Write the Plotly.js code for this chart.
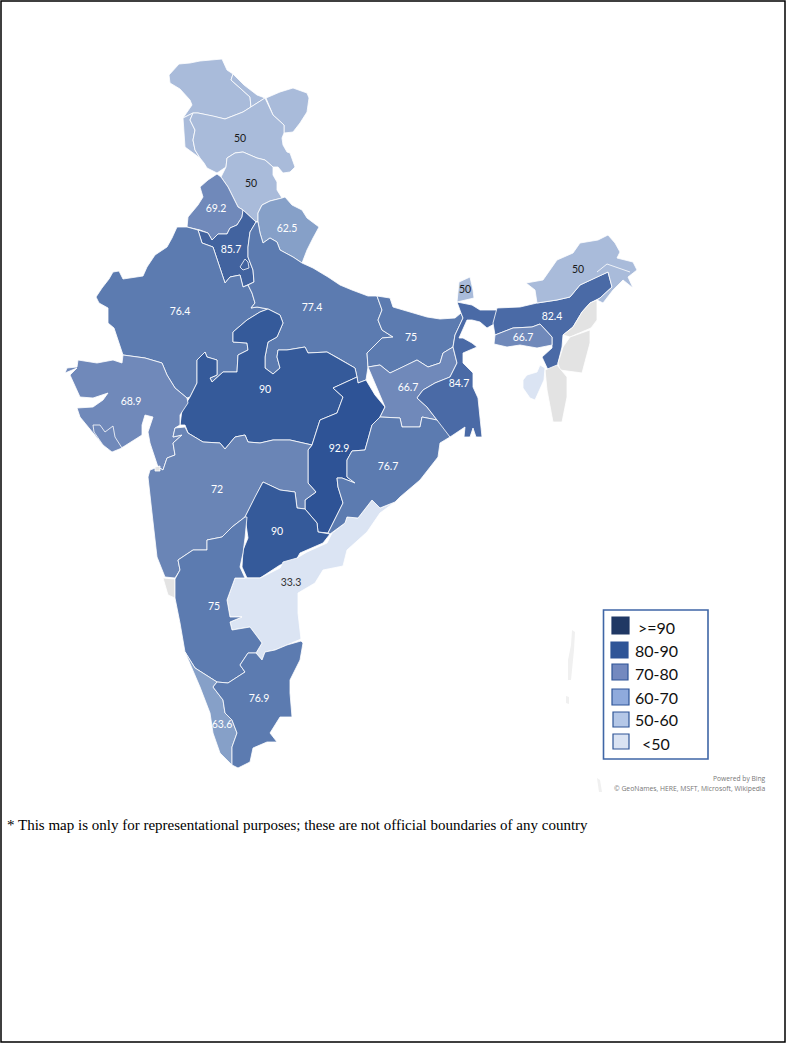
<!DOCTYPE html>
<html><head><meta charset="utf-8">
<script src="https://cdn.plot.ly/plotly-3.0.1.min.js"></script>
<style>html,body{margin:0;padding:0;background:#fff}#c{width:786px;height:1043px}</style></head>
<body><div id="c"></div>
<script>
// State outlines, in map units (flat x,y pairs)
const gilgit=[169,75,179,64,190,63,200,61,222,59,227,70,233,74,231,80,240,88,250,97,251,107,243,112,225,119,213,116,198,113,193,113,183,118,192,105,190,100,180,89,170,83];
const strip=[233,74,244,85,257,95,265,98,251,107,250,97,240,88,231,80];
const ladakh=[266,98,280,92,293,88,307,93,309,98,307,112,300,123,293,132,284,133,284,125,273,115];
const azad=[183,118,193,113,190,120,195,130,193,140,195,150,200,158,185,147];
const jammu=[193,113,198,113,213,116,225,119,243,112,251,107,265,98,273,115,284,125,284,133,282,138,283,145,287,152,290,153,295,167,290,172,283,173,278,167,273,167,265,160,257,158,243,152,235,153,227,158,226,167,217,173,207,168,204,163,200,158,195,150,193,140,195,130,190,120];
const himachal=[221,177,226,167,227,158,235,153,243,152,257,158,265,160,273,167,273,175,277,182,277,190,282,198,270,201,262,205,258,213,258,222,255,221,248,215,243,210,238,207,233,197,228,187];
const punjab=[217,174,221,177,228,187,233,197,238,207,243,210,242,217,237,225,230,228,227,234,218,234,212,240,208,233,200,230,187,227,188,217,198,205,203,197,200,187,208,180];
const uttarakhand=[262,205,270,201,282,198,285,197,292,205,302,210,307,218,319,227,313,238,307,250,302,263,293,257,280,250,277,242,270,238,263,243,260,233,258,222,258,213];
const haryana=[243,210,248,215,256,222,250,232,248,247,248,257,253,270,254,282,243,287,240,275,230,277,225,283,223,277,217,260,213,247,202,243,198,230,208,233,212,240,218,234,227,234,230,228,237,225,242,217];
const delhi=[240,267,245,259,248,262,249,268,243,270];
const rajasthan=[177,227,187,227,198,230,202,243,213,247,217,260,223,277,225,283,230,277,240,275,243,287,248,285,252,293,255,303,251,308,257,307,268,309,260,312,247,320,233,332,233,342,247,343,248,350,238,355,237,372,223,372,212,382,210,378,217,375,217,360,207,357,205,352,197,360,197,383,190,397,187,398,175,388,167,375,162,363,145,358,123,355,118,340,114,328,108,323,108,308,99,303,96,297,102,288,109,279,113,272,119,271,123,279,143,276,147,267,155,255,167,247,172,238];
const uttarPradesh=[256,222,258,222,260,233,263,243,270,238,277,242,280,250,293,257,302,263,313,268,328,277,340,285,352,290,368,296,377,296,382,310,378,320,382,330,393,337,382,338,367,353,368,367,366,380,358,383,357,377,355,368,338,358,327,352,308,353,305,347,287,350,278,350,277,357,280,368,273,374,265,368,265,357,268,342,277,337,283,323,280,315,268,309,257,307,251,308,255,303,252,293,248,285,254,282,253,270,248,257,248,247,250,232];
const madhyaPradesh=[268,309,280,315,283,323,277,337,268,342,265,357,265,368,273,374,280,368,277,357,278,350,287,350,305,347,308,353,327,352,338,358,355,368,357,377,333,388,343,397,337,413,320,420,312,445,290,440,273,440,260,443,248,442,245,435,235,437,225,449,220,443,203,442,188,433,185,425,180,425,182,410,188,400,190,397,197,383,197,360,205,352,207,357,217,360,217,375,210,378,212,382,223,372,237,372,238,355,248,350,247,343,233,342,233,332,247,320,260,312];
const chhattisgarh=[333,388,357,377,358,383,366,380,375,395,385,407,380,417,372,425,365,450,352,451,347,460,347,477,355,483,342,478,337,478,338,487,343,503,328,533,318,532,317,523,305,509,305,500,316,492,308,483,308,450,312,445,320,420,337,413,343,397];
const bihar=[377,296,390,298,393,307,410,312,427,317,440,319,455,318,461,313,463,318,455,335,453,347,443,353,440,363,428,367,417,360,403,367,390,373,380,365,368,367,367,353,382,338,393,337,382,330,378,320,382,310];
const jharkhand=[368,367,380,365,390,373,403,367,417,360,428,367,440,363,443,353,453,347,457,363,450,377,435,383,423,390,417,398,427,407,437,420,422,417,420,427,402,427,400,418,380,417,385,407,377,388];
const westBengal=[457,302,472,305,480,310,497,310,496,323,487,328,480,322,472,320,467,320,459,338,463,338,472,343,477,347,463,353,463,363,473,373,473,387,478,398,482,437,476,437,473,428,470,437,464,437,465,427,450,437,440,427,437,420,427,407,417,398,423,390,435,383,450,377,457,363,453,347,455,335,463,318,461,313];
const sikkim=[459,282,470,277,473,290,474,298,457,302,458,292];
const assam=[497,308,520,307,537,303,557,300,570,297,580,285,597,277,608,272,612,287,600,298,590,303,582,312,573,327,563,335,562,347,557,367,548,370,542,357,552,348,552,337,540,324,532,327,513,328,495,335,493,323];
const meghalaya=[495,335,513,328,532,327,540,324,552,337,552,345,537,348,520,345,507,347,494,344];
const arunachal=[526,283,543,280,557,260,573,253,580,243,598,240,608,235,615,243,620,252,617,258,633,262,637,270,628,277,633,288,623,280,613,290,603,303,597,300,600,298,612,287,608,272,597,277,580,285,570,297,557,300,537,303,535,290];
const arunachalLine=[597,272,607,264,630,272];
const nagaland=[597,300,597,320,591,328,570,337,563,335,573,327,582,312,590,303];
const manipur=[570,337,590,330,590,343,582,373,560,370,558,363,563,347];
const mizoram=[545,370,550,368,557,365,567,377,567,397,562,422,553,422,547,390];
const tripura=[523,380,527,375,537,372,540,365,545,368,544,380,535,400,530,398,523,388];
const gujarat=[123,355,145,358,162,363,167,375,175,388,187,398,188,403,180,415,180,425,175,428,173,437,182,435,173,443,175,455,167,458,163,470,158,467,155,458,150,443,148,432,153,417,145,415,142,425,142,435,123,447,112,452,103,445,80,417,77,408,93,407,103,400,108,393,93,398,80,397,70,375,77,368,65,373,67,368,77,367,78,360,97,363,113,360,122,363];
const gir=[93,425,100,425,105,432,113,426,115,437,122,448,112,452,103,445,94,432];
const maharashtra=[175,428,185,427,188,433,203,442,220,443,225,449,235,437,245,435,248,442,260,443,273,440,290,440,312,445,308,450,308,473,308,483,316,492,305,500,305,509,297,508,295,492,280,490,263,482,255,497,245,517,232,527,222,537,207,540,207,550,193,550,178,560,180,570,175,578,165,577,157,557,152,513,148,477,150,470,158,467,163,470,167,458,175,455,173,443,182,435,173,437];
const goa=[163,578,175,579,175,598,168,595];
const daman=[155,467,160,466,160,471,155,471];
const telangana=[263,482,280,490,295,492,297,508,305,509,317,523,318,532,330,534,323,543,308,550,300,553,295,562,280,565,260,578,247,578,242,567,243,550,248,538,245,517,255,497];
const andhra=[395,502,380,513,367,532,347,550,343,566,323,570,315,583,298,593,298,613,301,639,287,645,275,650,265,652,262,660,256,653,262,643,250,627,232,630,230,622,242,617,230,617,227,600,235,578,260,578,280,568,283,562,297,558,307,552,327,543,332,533,345,523,347,517,358,518,372,500,380,508];
const odisha=[380,417,400,418,402,427,420,427,422,417,437,420,450,437,440,443,438,457,420,480,400,497,395,502,380,508,372,500,358,518,347,517,345,523,332,533,330,534,328,533,343,503,338,487,337,478,342,478,355,483,347,477,347,460,352,451,365,450,372,425];
const karnataka=[245,517,232,527,222,537,207,540,207,550,193,550,178,560,180,570,175,579,175,598,180,623,185,652,195,668,217,682,228,683,245,672,240,665,248,653,256,653,262,643,250,627,232,630,230,622,242,617,230,617,227,600,235,578,245,578,240,567,243,553,245,538,247,517];
const kerala=[185,652,195,668,217,682,213,687,223,700,225,713,232,720,237,733,232,747,232,765,220,753,213,733,210,713,200,687];
const tamilNadu=[256,653,262,660,265,652,275,650,287,645,301,641,303,643,300,660,290,680,290,693,292,717,280,717,270,733,277,742,267,742,253,748,250,762,238,768,232,765,232,747,237,733,232,720,225,713,223,700,213,687,217,682,228,683,245,672,240,665,248,653];
const andaman=[572,630,575,632,574,650,571,680,568,680,568,660,571,645];
const andamanSouth=[566,696,569,697,569,704,566,703];
const nicobar=[597,778,600,780,602,792,599,792];

// State values and their colours
const stateNames=['gilgit','strip','ladakh','azad','jammu','himachal','punjab','uttarakhand','haryana','delhi','rajasthan','uttarPradesh','madhyaPradesh','chhattisgarh','bihar','jharkhand','westBengal','sikkim','assam','meghalaya','arunachal','nagaland','manipur','mizoram','tripura','gujarat','gir','maharashtra','goa','daman','telangana','andhra','odisha','karnataka','kerala','tamilNadu','andaman','andamanSouth','nicobar'];
const stateShapes=[gilgit,strip,ladakh,azad,jammu,himachal,punjab,uttarakhand,haryana,delhi,rajasthan,uttarPradesh,madhyaPradesh,chhattisgarh,bihar,jharkhand,westBengal,sikkim,assam,meghalaya,arunachal,nagaland,manipur,mizoram,tripura,gujarat,gir,maharashtra,goa,daman,telangana,andhra,odisha,karnataka,kerala,tamilNadu,andaman,andamanSouth,nicobar];
const L50='#a9bbda',L62='#86a0c8',L67='#7089ba',L72='#6a85b6',L76='#5c7bb0',L83='#4a6aa6',L86='#42639f',L90='#355a9a',L93='#2e5396',LOW='#dbe4f3',GREY='#e3e3e3',PALE='#f0f0f0';
const stateColors=[L50,L50,L50,L50,L50,L50,L67,L62,L86,L86,L76,L76,L90,L93,L76,L67,L83,L50,L83,L67,L50,GREY,GREY,GREY,LOW,L67,L67,L72,GREY,GREY,L90,LOW,L76,L76,L62,L76,PALE,PALE,PALE];

const labelText=['50','50','69.2','62.5','85.7','76.4','77.4','75','66.7','90','68.9','72','90','92.9','76.7','33.3','75','76.9','63.6','84.7','82.4','66.7','50','50'];
const labelX=[240,251,216,287,231,180,312,411,408,265,131,217,277,339,388,291,214,259,222,459,552,523,465,578];
const labelY=[139,184,209,229,250,312,308,338,388,390,402,490,532,449,467,583,607,699,725,384,317,338,290,270];
const labelColor=['#1a1a1a','#1a1a1a','#fff','#fff','#fff','#fff','#fff','#fff','#fff','#fff','#fff','#fff','#fff','#fff','#fff','#333','#fff','#fff','#fff','#fff','#fff','#fff','#1a1a1a','#1a1a1a'];

const legendLabels=['>=90','80-90','70-80','60-70','50-60','<50'];
const legendColors=['#203864','#2f5597','#7389bf','#8faadc','#b4c7e7','#dae3f3'];
const legendEdges=['#203864','#2f5597','#2f5597','#2f5597','#2f5597','#2f5597'];
const legendTop=[617,642,664,689,712,734];
const legendBottom=[634,658,680,705,727,749];
const legendLeft=[612,611,612,612,613,613];
const legendRight=[629,628,628,629,629,629];
const legendTextY=[627,650,673,697,719,743];

function xs(a){const r=[];for(let i=0;i<a.length;i+=2)r.push(a[i]);r.push(a[0]);return r}
function ys(a){const r=[];for(let i=1;i<a.length;i+=2)r.push(a[i]);r.push(a[1]);return r}

const traces=stateShapes.map((s,i)=>({type:'scatter',mode:'lines',name:stateNames[i],x:xs(s),y:ys(s),fill:'toself',fillcolor:stateColors[i],
  line:{color:stateColors[i]===PALE?PALE:'#ffffff',width:stateColors[i]===PALE?0:0.8},hoverinfo:'skip',showlegend:false}));
traces.push({type:'scatter',mode:'lines',x:arunachalLine.filter((v,i)=>i%2==0),y:arunachalLine.filter((v,i)=>i%2==1),line:{color:'#fff',width:0.8},hoverinfo:'skip',showlegend:false});
traces.push({type:'scatter',mode:'text',x:labelX,y:labelY,text:labelText,textposition:'middle center',textfont:{family:'Lato, sans-serif',size:10.5,color:labelColor},hoverinfo:'skip',showlegend:false});

const shapes=[
 {type:'rect',xref:'x',yref:'y',x0:1,x1:785,y0:1,y1:1042,line:{color:'#000',width:1.5},fillcolor:'rgba(0,0,0,0)'},
 {type:'rect',xref:'x',yref:'y',x0:603.5,x1:708,y0:610,y1:759,line:{color:'#3f66a6',width:1.6},fillcolor:'#fff'}
];
legendLabels.forEach((l,i)=>shapes.push({type:'rect',xref:'x',yref:'y',x0:legendLeft[i],x1:legendRight[i],y0:legendTop[i],y1:legendBottom[i],fillcolor:legendColors[i],line:{color:legendEdges[i],width:1.2},layer:'above'}));

const annotations=legendLabels.map((l,i)=>({xref:'x',yref:'y',x:656,y:legendTextY[i],text:l.replace('<','&lt;'),showarrow:false,xanchor:'center',yanchor:'middle',font:{family:'Lato, sans-serif',size:16,color:'#111'}}));
annotations.push({xref:'x',yref:'y',x:768,y:778,text:'Powered by Bing',showarrow:false,xanchor:'right',yanchor:'middle',font:{family:'Open Sans, sans-serif',size:6.7,color:'#777'}});
annotations.push({xref:'x',yref:'y',x:768,y:788,text:'© GeoNames, HERE, MSFT, Microsoft, Wikipedia',showarrow:false,xanchor:'right',yanchor:'middle',font:{family:'Open Sans, sans-serif',size:6.8,color:'#777'}});
annotations.push({xref:'x',yref:'y',x:5,y:825,text:'* This map is only for representational purposes; these are not official boundaries of any country',showarrow:false,xanchor:'left',yanchor:'middle',font:{family:'Liberation Serif, serif',size:15,color:'#000'}});

Plotly.newPlot('c',traces,{width:786,height:1043,margin:{l:0,r:0,t:0,b:0},paper_bgcolor:'#fff',plot_bgcolor:'#fff',showlegend:false,
 xaxis:{range:[0,786],visible:false,fixedrange:true},yaxis:{range:[1043,0],visible:false,fixedrange:true},shapes,annotations},{displayModeBar:false,staticPlot:true});
</script></body></html>
